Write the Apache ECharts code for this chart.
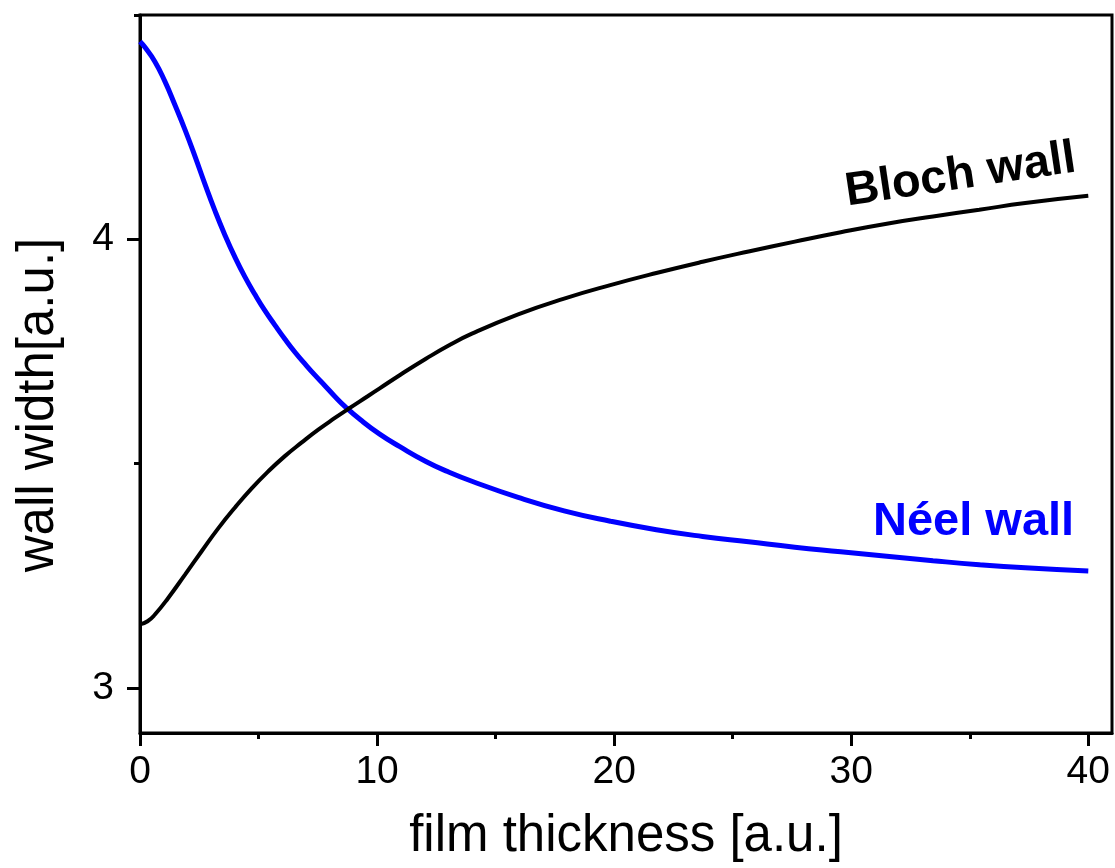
<!DOCTYPE html>
<html>
<head>
<meta charset="utf-8">
<script src="https://cdn.jsdelivr.net/npm/echarts@6/dist/echarts.min.js"></script>
<style>
html,body{margin:0;padding:0;background:#fff;}
#chart{width:1115px;height:868px;}
</style>
</head>
<body>
<div id="chart"></div>
<script>
// ---- data ----
const blochX = [0, 0.32, 0.63, 1.19, 1.90, 2.60, 3.30, 4.00, 4.71, 5.41, 6.11, 6.81, 7.52, 8.22, 8.78, 9.62, 10.11, 11.00, 12.06, 13.00, 14.00, 15.95, 17.89, 19.84, 21.78, 23.73, 25.67, 27.62, 29.56, 31.50, 33.45, 35.40, 37.34, 40.00];
const blochY = [3.142, 3.149, 3.164, 3.201, 3.253, 3.305, 3.356, 3.402, 3.445, 3.483, 3.517, 3.547, 3.576, 3.602, 3.622, 3.651, 3.668, 3.699, 3.734, 3.763, 3.790, 3.833, 3.868, 3.898, 3.925, 3.950, 3.973, 3.995, 4.016, 4.035, 4.051, 4.066, 4.081, 4.097];
const neelX = [0, 0.21, 0.63, 1.05, 1.47, 1.90, 2.32, 2.74, 3.16, 3.58, 4.00, 4.42, 4.85, 5.27, 5.69, 6.11, 6.53, 6.95, 7.37, 7.80, 8.22, 8.64, 9.30, 10.11, 10.96, 12.06, 13.00, 14.00, 15.95, 17.89, 19.84, 21.78, 23.73, 25.67, 27.62, 29.56, 31.50, 33.45, 35.40, 37.34, 40.00];
const neelY = [4.441, 4.428, 4.396, 4.352, 4.300, 4.244, 4.185, 4.123, 4.064, 4.010, 3.961, 3.917, 3.877, 3.841, 3.809, 3.778, 3.749, 3.723, 3.698, 3.674, 3.650, 3.628, 3.598, 3.566, 3.538, 3.505, 3.482, 3.461, 3.425, 3.395, 3.372, 3.353, 3.338, 3.326, 3.314, 3.304, 3.294, 3.284, 3.275, 3.268, 3.261];
const xMajorTicks = [0, 10, 20, 30, 40];
const xMinorTicks = [5, 15, 25, 35];
const yMajorTicks = [3, 4];
const yMinorTicks = [3.5, 4.5];
const seriesNames = ['Bloch wall', 'Néel wall'];
const xAxisName = 'film thickness [a.u.]';
const yAxisName = 'wall width[a.u.]';

const zip = (xs, ys) => xs.map((x, i) => [x, ys[i]]);
const FONT = '"Liberation Sans", Arial, sans-serif';

const chart = echarts.init(document.getElementById('chart'), null, {renderer: 'canvas'});
const option = {
  animation: false,
  backgroundColor: '#fff',
  grid: {left: 140, right: 3, top: 15, bottom: 135, show: true, borderColor: '#000', borderWidth: 3, containLabel: false},
  xAxis: [{
    type: 'value', min: 0, max: 41, position: 'bottom',
    name: xAxisName, nameLocation: 'middle', nameGap: 78,
    nameTextStyle: {fontFamily: FONT, fontSize: 51, color: '#000'},
    axisLine: {show: true, lineStyle: {color: '#000', width: 3}},
    axisTick: {show: true, inside: false, length: 13, lineStyle: {color: '#000', width: 3}, customValues: xMajorTicks},
    axisLabel: {fontFamily: FONT, fontSize: 39, color: '#000', margin: 20, customValues: xMajorTicks},
    splitLine: {show: false}
  }, {
    type: 'value', min: 0, max: 41, position: 'bottom', gridIndex: 0,
    axisLine: {show: false},
    axisTick: {show: true, length: 6, lineStyle: {color: '#000', width: 3}, customValues: xMinorTicks},
    axisLabel: {show: false},
    splitLine: {show: false}
  }],
  yAxis: [{
    type: 'value', min: 2.9, max: 4.5, position: 'left',
    name: yAxisName, nameLocation: 'middle', nameGap: 76, nameRotate: 90,
    nameTextStyle: {fontFamily: FONT, fontSize: 51, color: '#000', padding: [0, 62, 0, 0]},
    axisLine: {show: true, lineStyle: {color: '#000', width: 3}},
    axisTick: {show: true, length: 13, lineStyle: {color: '#000', width: 3}, customValues: yMajorTicks},
    axisLabel: {fontFamily: FONT, fontSize: 39, color: '#000', margin: 26, customValues: yMajorTicks},
    splitLine: {show: false}
  }, {
    type: 'value', min: 2.9, max: 4.5, position: 'left',
    axisLine: {show: false},
    axisTick: {show: true, length: 6, lineStyle: {color: '#000', width: 3}, customValues: yMinorTicks},
    axisLabel: {show: false},
    splitLine: {show: false}
  }],
  series: [{
    name: seriesNames[0], type: 'line', xAxisIndex: 0, yAxisIndex: 0,
    data: zip(blochX, blochY), showSymbol: false, smooth: 0.5,
    lineStyle: {color: '#000', width: 4}, z: 3
  }, {
    name: seriesNames[1], type: 'line', xAxisIndex: 0, yAxisIndex: 0,
    data: zip(neelX, neelY), showSymbol: false, smooth: 0.5,
    lineStyle: {color: '#0000ff', width: 5}, z: 2
  }],
  graphic: [{
    type: 'text', x: 849, y: 216, rotation: 8.5 * Math.PI / 180,
    style: {text: seriesNames[0], x: 0, y: 0, align: 'left', verticalAlign: 'bottom',
      font: 'bold 47px ' + FONT, fill: '#000'}
  }, {
    type: 'text', x: 873, y: 546,
    style: {text: seriesNames[1], x: 0, y: 0, align: 'left', verticalAlign: 'bottom',
      font: 'bold 47px ' + FONT, fill: '#0000ff'}
  }]
};
chart.setOption(option);
</script>
</body>
</html>
